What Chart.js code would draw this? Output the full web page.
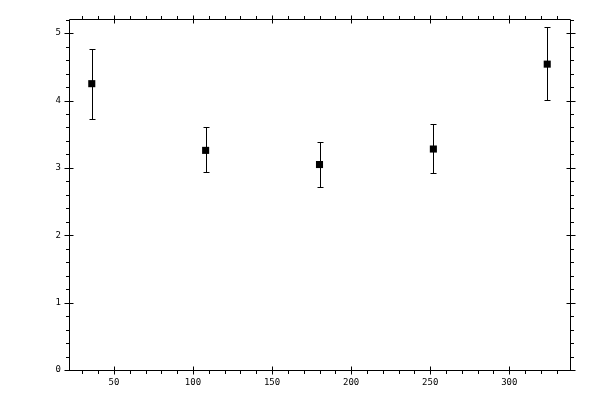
<!DOCTYPE html>
<html>
<head>
<meta charset="utf-8">
<script src="https://cdn.jsdelivr.net/npm/chart.js@4/dist/chart.umd.min.js"></script>
<style>
html,body{margin:0;padding:0;background:#fff;}
#wrap{width:600px;height:400px;position:relative;}
</style>
</head>
<body>
<div id="wrap"><canvas id="c" width="600" height="400"></canvas></div>
<script>
// Data
const xValues = [36, 108, 180, 252, 324];
const yValues = [4.25, 3.26, 3.05, 3.28, 4.54];
const yLower = [3.73, 2.94, 2.72, 2.92, 4.01];
const yUpper = [4.77, 3.61, 3.38, 3.65, 5.09];
const xTickLabels = [50, 100, 150, 200, 250, 300];
const yTickLabels = [0, 1, 2, 3, 4, 5];
const xRange = [21.6, 338.4];
const yRange = [0, 5.21];

const points = xValues.map((x, i) => ({x: x, y: yValues[i]}));

const framePlugin = {
  id: 'frameAndErrors',
  beforeDatasetsDraw(chart) {
    const ctx = chart.ctx;
    const xs = chart.scales.x, ys = chart.scales.y;
    const a = chart.chartArea;
    const L = Math.round(a.left) + 0.5, R = Math.round(a.right) + 0.5;
    const T = Math.round(a.top) + 0.5, B = Math.round(a.bottom) + 0.5;
    ctx.save();
    ctx.strokeStyle = '#000';
    ctx.lineWidth = 1;
    ctx.beginPath();
    ctx.rect(L, T, R - L, B - T);
    ctx.stroke();
    const majorHalf = 4, minorLen = 3.5;
    ctx.beginPath();
    // x ticks (minor every 10)
    for (let v = Math.ceil(xRange[0] / 10) * 10; v <= xRange[1]; v += 10) {
      const p = Math.round(xs.getPixelForValue(v)) + 0.5;
      const major = v % 50 === 0;
      if (major) {
        ctx.moveTo(p, B - majorHalf); ctx.lineTo(p, B + majorHalf);
        ctx.moveTo(p, T - majorHalf); ctx.lineTo(p, T + majorHalf);
      } else {
        ctx.moveTo(p, B); ctx.lineTo(p, B + minorLen);
        ctx.moveTo(p, T); ctx.lineTo(p, T - minorLen);
      }
    }
    // y ticks (minor every 0.2)
    for (let k = 0; k * 0.2 <= yRange[1] + 1e-9; k++) {
      const v = k * 0.2;
      const p = Math.round(ys.getPixelForValue(v)) + 0.5;
      const major = k % 5 === 0;
      if (major) {
        ctx.moveTo(L - majorHalf - 1, p); ctx.lineTo(L + majorHalf, p);
        ctx.moveTo(R - majorHalf, p); ctx.lineTo(R + majorHalf + 1, p);
      } else {
        ctx.moveTo(L, p); ctx.lineTo(L - minorLen, p);
        ctx.moveTo(R, p); ctx.lineTo(R + minorLen, p);
      }
    }
    ctx.stroke();
    // error bars
    ctx.beginPath();
    const cap = 3;
    for (let i = 0; i < xValues.length; i++) {
      const px = Math.round(xs.getPixelForValue(xValues[i])) + 0.5;
      const pl = Math.round(ys.getPixelForValue(yLower[i])) + 0.5;
      const pu = Math.round(ys.getPixelForValue(yUpper[i])) + 0.5;
      ctx.moveTo(px, pl); ctx.lineTo(px, pu);
      ctx.moveTo(px - cap, pl); ctx.lineTo(px + cap, pl);
      ctx.moveTo(px - cap, pu); ctx.lineTo(px + cap, pu);
    }
    ctx.stroke();
    ctx.restore();
  }
};

new Chart(document.getElementById('c'), {
  type: 'scatter',
  data: {
    datasets: [{
      data: points,
      pointStyle: 'rect',
      pointRadius: 5,
      pointHoverRadius: 5,
      pointBorderWidth: 0,
      backgroundColor: '#000',
      borderColor: '#000'
    }]
  },
  options: {
    responsive: false,
    animation: false,
    devicePixelRatio: 1,
    layout: {padding: {top: 19, right: 30, left: 0, bottom: 0}},
    plugins: {legend: {display: false}, tooltip: {enabled: false}},
    scales: {
      x: {
        type: 'linear',
        min: xRange[0], max: xRange[1],
        grid: {display: false, drawTicks: false},
        border: {display: false},
        afterBuildTicks: (s) => { s.ticks = xTickLabels.map(v => ({value: v})); },
        afterFit: (s) => { s.height = 30; },
        ticks: {
          padding: 7,
          color: '#000',
          maxRotation: 0,
          font: {family: 'DejaVu Sans Mono', size: 9},
          callback: (v) => String(v)
        }
      },
      y: {
        type: 'linear',
        min: yRange[0], max: yRange[1],
        grid: {display: false, drawTicks: false},
        border: {display: false},
        afterBuildTicks: (s) => { s.ticks = yTickLabels.map(v => ({value: v})); },
        afterFit: (s) => { s.width = 69; },
        ticks: {
          padding: 8,
          color: '#000',
          font: {family: 'DejaVu Sans Mono', size: 9},
          callback: (v) => String(v)
        }
      }
    }
  },
  plugins: [framePlugin]
});
</script>
</body>
</html>
